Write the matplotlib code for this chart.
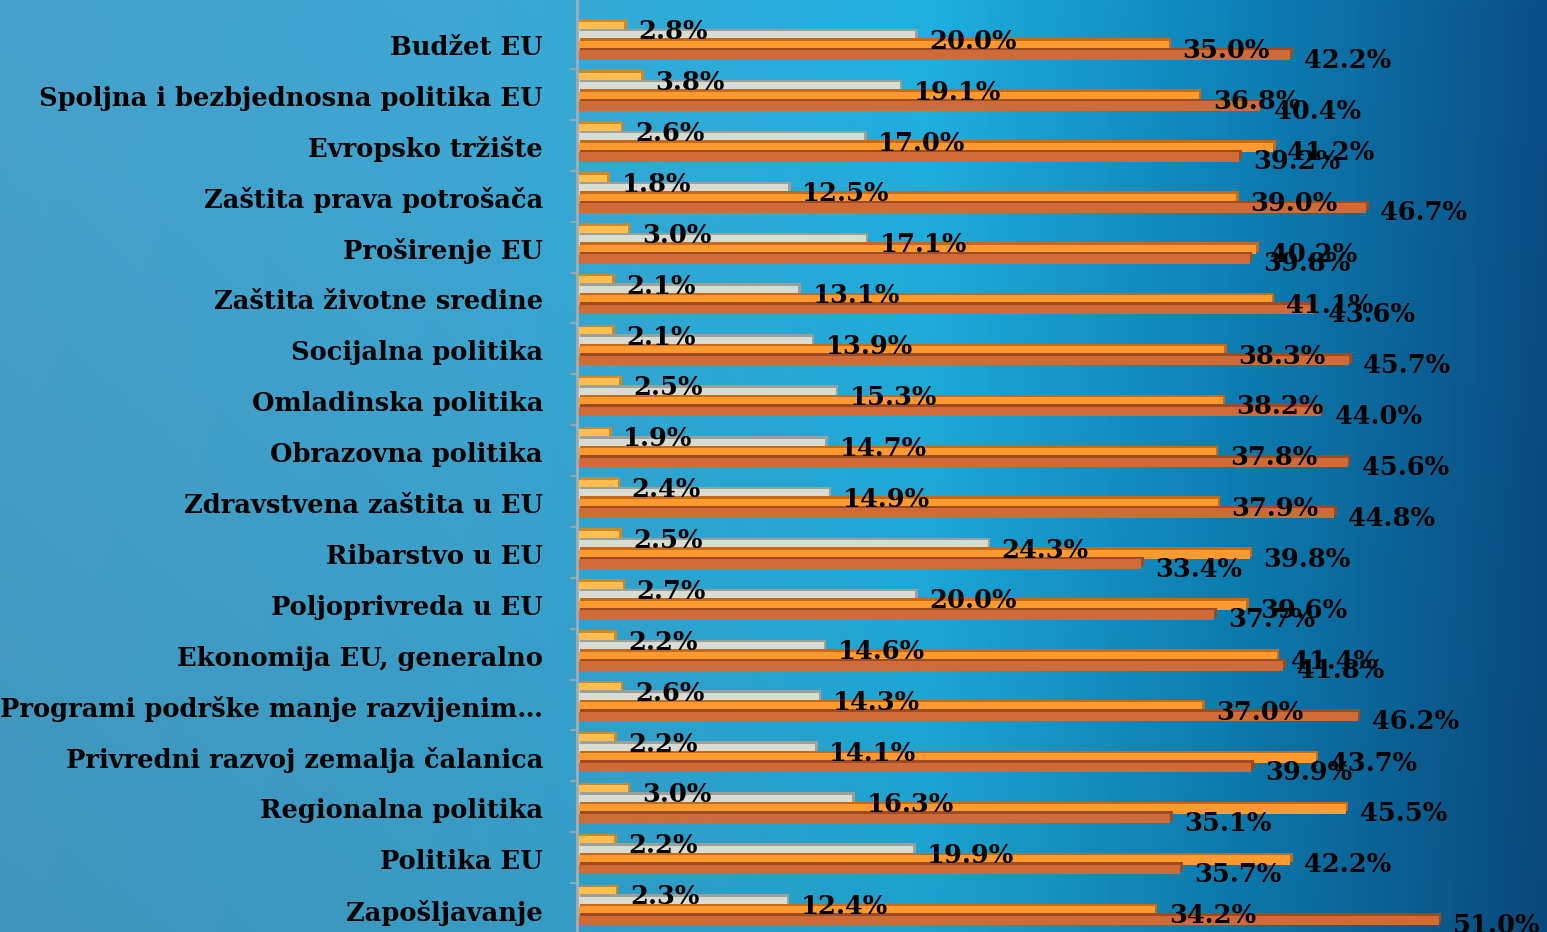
import numpy as np
import matplotlib.pyplot as plt
from matplotlib.colors import LinearSegmentedColormap

# data, top to bottom
categories = ["Budžet EU", "Spoljna i bezbjednosna politika EU", "Evropsko tržište",
              "Zaštita prava potrošača", "Proširenje EU", "Zaštita životne sredine",
              "Socijalna politika", "Omladinska politika", "Obrazovna politika",
              "Zdravstvena zaštita u EU", "Ribarstvo u EU", "Poljoprivreda u EU",
              "Ekonomija EU, generalno", "Programi podrške manje razvijenim…",
              "Privredni razvoj zemalja čalanica", "Regionalna politika",
              "Politika EU", "Zapošljavanje"]
s1 = [2.8, 3.8, 2.6, 1.8, 3.0, 2.1, 2.1, 2.5, 1.9, 2.4, 2.5, 2.7, 2.2, 2.6, 2.2, 3.0, 2.2, 2.3]
s2 = [20.0, 19.1, 17.0, 12.5, 17.1, 13.1, 13.9, 15.3, 14.7, 14.9, 24.3, 20.0, 14.6, 14.3, 14.1, 16.3, 19.9, 12.4]
s3 = [35.0, 36.8, 41.2, 39.0, 40.2, 41.1, 38.3, 38.2, 37.8, 37.9, 39.8, 39.6, 41.4, 37.0, 43.7, 45.5, 42.2, 34.2]
s4 = [42.2, 40.4, 39.2, 46.7, 39.8, 43.6, 45.7, 44.0, 45.6, 44.8, 33.4, 37.7, 41.8, 46.2, 39.9, 35.1, 35.7, 51.0]

series = [s1, s2, s3, s4]
colors = ["#FFBE4F", "#D7DDD2", "#FF9A2E", "#D06B37"]
shades = ["#C88A2A", "#9AA09A", "#C46A1A", "#9E4A22"]

W, H = 15.47, 9.32
fig = plt.figure(figsize=(W, H), dpi=100)

# background gradient
bg = fig.add_axes([0, 0, 1, 1])
bg.set_axis_off()
cmap = LinearSegmentedColormap.from_list("bgc", [
    (0.0, "#46a2cc"), (0.3, "#3ea8d4"), (0.6, "#1fb0e0"),
    (0.8, "#0d82b8"), (1.0, "#0a4f86")])
xx = np.linspace(0, 1, 400)
yy = np.linspace(0, 1, 240)
X, Y = np.meshgrid(xx, yy)
bg.imshow(cmap(X)[:, :, :3] * (0.92 + 0.08 * Y[:, :, None]), aspect="auto",
          extent=[0, 1, 0, 1], origin="lower")

ax = fig.add_axes([577 / 1547, 0, 1 - 577 / 1547, 1])
ax.set_facecolor("none")
px_per_pct = 16.9
xmax = (1547 - 577) / px_per_pct
ax.set_xlim(0, xmax)
pitch = 50.9
ax.set_ylim(17 + (932 - 906) / pitch, -41 / pitch)

h = 9.5 / pitch
dx = 2.5 / px_per_pct
dy = 2.5 / pitch
y = np.arange(len(categories))
font = ["DejaVu Serif"]

for k, (vals, c, sc) in enumerate(zip(series, colors, shades)):
    yk = y + (k - 1.5) * h
    ax.barh(yk - dy, vals, left=dx, height=h, color=sc, zorder=2 + k * 0.1)
    ax.barh(yk, vals, height=h, color=c, zorder=2.05 + k * 0.1)

for k, vals in enumerate(series):
    yk = y + (k - 1.5) * h
    for yi, v in zip(yk, vals):
        ax.text(v + 14 / px_per_pct, yi + 5 / pitch, f"{v:.1f}%", ha="left", va="center",
                fontsize=18.5, fontweight="bold", family=font, color="black", zorder=5)

ax.set_yticks(y + 4 / pitch)
ax.set_yticklabels(categories, fontsize=18.5, fontweight="bold", family=font)
ax.tick_params(axis="y", length=0, pad=34 * 72 / 100)
ax.set_yticks(y[:-1] + 0.5 + 0.05, minor=True)
ax.tick_params(axis="y", which="minor", length=5, color="#9aa4aa", width=1.5)
ax.set_xticks([])
for s in ["top", "right", "bottom"]:
    ax.spines[s].set_visible(False)
ax.spines["left"].set_color("#a6adb2")
ax.spines["left"].set_linewidth(2)

fig.savefig("out.png", dpi=100)
